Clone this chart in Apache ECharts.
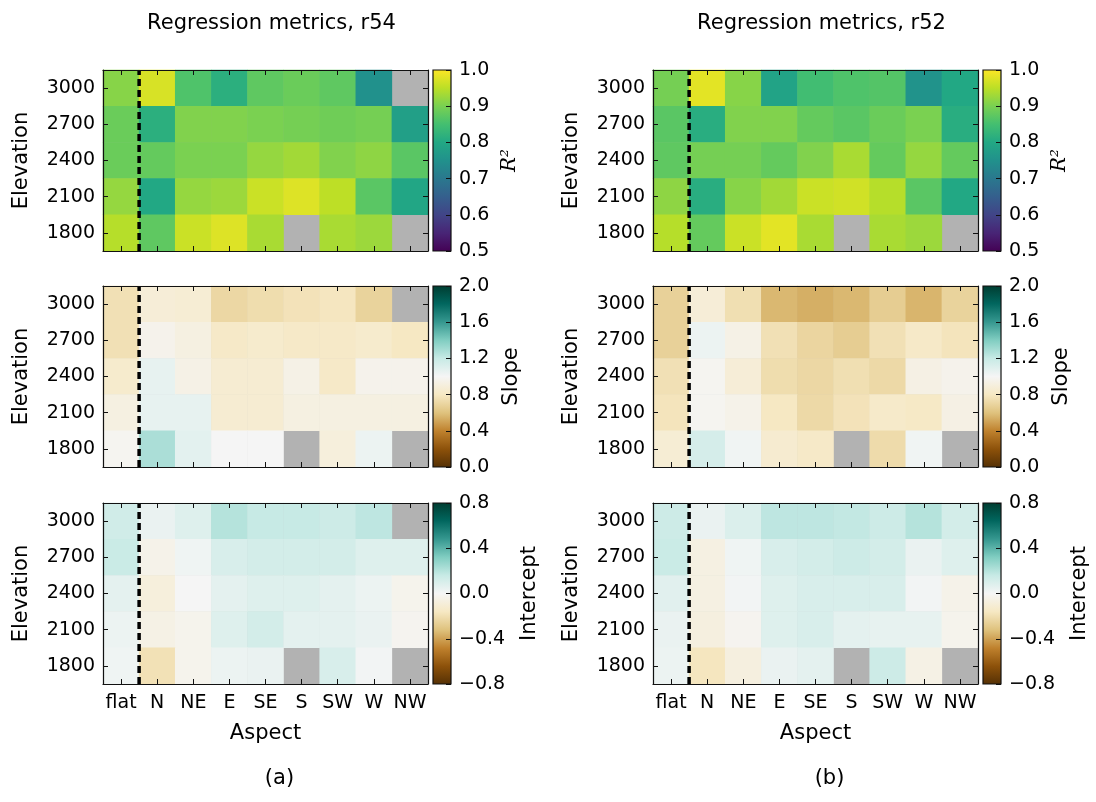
<!DOCTYPE html>
<html><head><meta charset="utf-8">
<script src="https://cdn.jsdelivr.net/npm/echarts@6/dist/echarts.min.js"></script>
<style>html,body{margin:0;padding:0;background:#fff}#c{width:1096px;height:802px}</style>
</head><body><div id="c"></div><script>
// ---- categories ----
const aspects = ['flat','N','NE','E','SE','S','SW','W','NW'];
const elevations = ['1800','2100','2400','2700','3000'];
const panelTitles = ['Regression metrics, r54', 'Regression metrics, r52'];
const panelCaptions = ['(a)', '(b)'];
const metricNames = ['R²', 'Slope', 'Intercept'];
const dividerAt = 0.5; // boundary between 'flat' and 'N'

// ---- values: rows listed top (3000) to bottom (1800), columns = aspects; null = no data ----
const r2_r54 = [
  [0.91, 0.97, 0.86, 0.815, 0.875, 0.885, 0.875, 0.75, null],
  [0.885, 0.815, 0.905, 0.905, 0.90, 0.895, 0.89, 0.895, 0.78],
  [0.885, 0.88, 0.90, 0.90, 0.92, 0.93, 0.905, 0.915, 0.87],
  [0.92, 0.80, 0.92, 0.925, 0.96, 0.975, 0.95, 0.87, 0.795],
  [0.945, 0.875, 0.96, 0.975, 0.935, null, 0.935, 0.925, null]
];
const r2_r52 = [
  [0.895, 0.98, 0.91, 0.79, 0.845, 0.86, 0.865, 0.755, 0.80],
  [0.87, 0.81, 0.905, 0.905, 0.88, 0.87, 0.885, 0.90, 0.81],
  [0.875, 0.895, 0.895, 0.88, 0.905, 0.935, 0.88, 0.92, 0.88],
  [0.915, 0.81, 0.91, 0.93, 0.96, 0.965, 0.945, 0.87, 0.80],
  [0.945, 0.88, 0.96, 0.98, 0.935, null, 0.935, 0.925, null]
];
const slope_r54 = [
  [0.76, 0.88, 0.87, 0.71, 0.74, 0.77, 0.79, 0.69, null],
  [0.76, 0.96, 0.92, 0.82, 0.84, 0.82, 0.82, 0.84, 0.80],
  [0.84, 1.06, 0.94, 0.86, 0.86, 0.94, 0.82, 0.96, 0.96],
  [0.92, 1.06, 1.06, 0.86, 0.86, 0.92, 0.92, 0.92, 0.92],
  [0.98, 1.28, 1.08, 1.00, 1.00, null, 0.90, 1.04, null]
];
const slope_r52 = [
  [0.68, 0.88, 0.75, 0.57, 0.54, 0.57, 0.66, 0.56, 0.69],
  [0.68, 1.04, 0.94, 0.76, 0.70, 0.66, 0.76, 0.82, 0.78],
  [0.76, 0.98, 0.88, 0.74, 0.71, 0.75, 0.72, 0.93, 0.96],
  [0.78, 0.98, 0.95, 0.80, 0.72, 0.77, 0.83, 0.81, 0.93],
  [0.87, 1.14, 1.02, 0.85, 0.82, null, 0.73, 1.02, null]
];
const intercept_r54 = [
  [0.13, 0.04, 0.08, 0.20, 0.16, 0.16, 0.14, 0.18, null],
  [0.15, -0.04, 0.02, 0.10, 0.12, 0.12, 0.12, 0.08, 0.08],
  [0.06, -0.08, 0.00, 0.06, 0.08, 0.08, 0.06, 0.03, -0.03],
  [0.03, -0.05, -0.03, 0.08, 0.12, 0.06, 0.06, 0.04, -0.02],
  [0.02, -0.19, -0.03, 0.03, 0.04, null, 0.10, 0.01, null]
];
const intercept_r52 = [
  [0.14, 0.04, 0.09, 0.18, 0.18, 0.17, 0.14, 0.20, 0.12],
  [0.15, -0.06, 0.02, 0.10, 0.12, 0.14, 0.12, 0.04, 0.08],
  [0.07, -0.06, 0.01, 0.08, 0.10, 0.10, 0.10, 0.01, -0.04],
  [0.04, -0.07, -0.02, 0.08, 0.10, 0.06, 0.05, 0.05, -0.03],
  [0.03, -0.17, -0.07, 0.04, 0.06, null, 0.14, -0.05, null]
];

// ---- colour scales ----
const rangeR2 = [0.5, 1.0], ticksR2 = 0.1;
const rangeSlope = [0.0, 2.0], ticksSlope = 0.4;
const rangeIntercept = [-0.8, 0.8], ticksIntercept = 0.4;
const viridis = ['#440154','#482475','#414487','#355f8d','#2a788e','#21918c','#22a884','#44bf70','#7ad151','#bddf26','#fde725'];
const brbg = ['#543005','#8c510a','#bf812d','#dfc27d','#f6e8c3','#f5f5f5','#c7eae5','#80cdc1','#35978f','#01665e','#003c30'];

const panels = [
  [r2_r54, slope_r54, intercept_r54],
  [r2_r52, slope_r52, intercept_r52]
];
const ranges = [rangeR2, rangeSlope, rangeIntercept];
const intervals = [ticksR2, ticksSlope, ticksIntercept];
const cmaps = [viridis, brbg, brbg];

// ---- layout (pixels) ----
const FONT = 'DejaVu Sans', FS = 19, FSL = 21, TXT = '#000', LINE = '#111';
const plotLeft = [103, 653], plotW = 325;
const plotTop = [70, 286, 503], plotH = 181;
const cbGap = 5, cbW = 18;
const cbNameGap = [49, 50, 68];

const grids = [], xAxes = [], yAxes = [], series = [], visualMaps = [], titles = [];

function fmt(v){ if (Math.abs(v) < 1e-9) v = 0; return (v < 0 ? '\u2212' : '') + Math.abs(v).toFixed(1); }

for (let p = 0; p < 2; p++) {
  titles.push({text: panelTitles[p], left: plotLeft[p] + plotW/2 + 1, top: 8, textAlign: 'center',
    textStyle: {fontFamily: FONT, fontSize: FSL, fontWeight: 'normal', color: TXT}});
  titles.push({text: panelCaptions[p], left: plotLeft[p] + plotW/2 + 9, top: 763, textAlign: 'center',
    textStyle: {fontFamily: FONT, fontSize: FSL, fontWeight: 'normal', color: TXT}});
  for (let m = 0; m < 3; m++) {
    const isBottom = m === 2;
    const g = grids.length;
    grids.push({left: plotLeft[p], top: plotTop[m], width: plotW, height: plotH,
      show: true, backgroundColor: '#b2b2b2', borderWidth: 0});
    const cbg = grids.length;
    grids.push({left: plotLeft[p] + plotW + cbGap, top: plotTop[m], width: cbW, height: plotH, show: false});

    const axLine = {show: true, onZero: false, lineStyle: {color: LINE, width: 1.2}};
    const tick = {show: true, inside: true, length: 5, alignWithLabel: true, lineStyle: {color: LINE, width: 1}};
    const xA = xAxes.length;
    xAxes.push({type: 'category', gridIndex: g, data: aspects, position: 'bottom', z: 10,
      axisLine: axLine, axisTick: tick, splitLine: {show: false},
      axisLabel: {show: isBottom, margin: 10, fontFamily: FONT, fontSize: FS, color: TXT, interval: 0},
      name: isBottom ? 'Aspect' : '', nameLocation: 'middle', nameGap: 39,
      nameTextStyle: {fontFamily: FONT, fontSize: FSL, color: TXT}});
    xAxes.push({type: 'category', gridIndex: g, data: aspects, position: 'top', z: 10,
      axisLine: axLine, axisTick: tick, axisLabel: {show: false}, splitLine: {show: false}});
    const xV = xAxes.length;
    xAxes.push({type: 'value', gridIndex: g, min: -0.5, max: aspects.length - 0.5, show: false,
      axisLine: {onZero: false}});
    const xC = xAxes.length;
    xAxes.push({type: 'value', gridIndex: cbg, min: 0, max: 1, show: false, axisLine: {onZero: false}});

    const yA = yAxes.length;
    yAxes.push({type: 'category', gridIndex: g, data: elevations, position: 'left', z: 10,
      axisLine: axLine, axisTick: tick, splitLine: {show: false},
      axisLabel: {show: true, margin: 8, fontFamily: FONT, fontSize: FS, color: TXT},
      name: 'Elevation', nameLocation: 'middle', nameRotate: 90, nameGap: 71,
      nameTextStyle: {fontFamily: FONT, fontSize: FSL, color: TXT}});
    yAxes.push({type: 'category', gridIndex: g, data: elevations, position: 'right', z: 10,
      axisLine: axLine, axisTick: tick, axisLabel: {show: false}, splitLine: {show: false}});
    const yV = yAxes.length;
    yAxes.push({type: 'value', gridIndex: g, min: 0, max: 1, show: false, axisLine: {onZero: false}});
    const yC = yAxes.length;
    const rg = ranges[m];
    yAxes.push({type: 'value', gridIndex: cbg, min: rg[0], max: rg[1], interval: intervals[m], position: 'right', z: 10,
      axisLine: {show: false, onZero: false}, splitLine: {show: false},
      axisTick: {show: true, inside: true, length: 5, lineStyle: {color: LINE, width: 1}},
      axisLabel: {show: true, margin: 8, fontFamily: FONT, fontSize: FS, color: TXT, formatter: fmt,
        showMinLabel: true, showMaxLabel: true},
      name: metricNames[m], nameLocation: 'middle', nameRotate: 90, nameGap: cbNameGap[m],
      nameTextStyle: {fontFamily: m === 0 ? 'DejaVu Serif' : FONT, fontStyle: m === 0 ? 'italic' : 'normal',
        fontSize: m === 0 ? 20 : FSL, color: TXT}});

    const mat = panels[p][m];
    const data = [];
    for (let r = 0; r < mat.length; r++) {
      for (let c = 0; c < mat[r].length; c++) {
        const v = mat[r][c];
        if (v !== null) data.push([c, elevations.length - 1 - r, v]);
      }
    }
    const si = series.length;
    series.push({type: 'heatmap', xAxisIndex: xA, yAxisIndex: yA, data: data,
      itemStyle: {borderWidth: 0}, emphasis: {disabled: true}, progressive: 0});
    visualMaps.push({type: 'continuous', show: false, seriesIndex: si, min: rg[0], max: rg[1],
      dimension: 2, inRange: {color: cmaps[m]}});
    series.push({type: 'line', xAxisIndex: xV, yAxisIndex: yV, data: [[dividerAt, 0], [dividerAt, 1]],
      symbol: 'none', silent: true, z: 5, lineStyle: {color: '#000', width: 3.5, type: [7, 4]}});
    const stops = cmaps[m].map((col, i) => ({offset: i / (cmaps[m].length - 1), color: col}));
    series.push({type: 'custom', xAxisIndex: xC, yAxisIndex: yC, data: [[rg[0], rg[1]]], silent: true, z: 1,
      renderItem: function (params, api) {
        const lo = api.value(0), hi = api.value(1);
        const p0 = api.coord([0, hi]);
        const p1 = api.coord([1, lo]);
        return {type: 'rect', shape: {x: p0[0], y: p0[1], width: p1[0] - p0[0], height: p1[1] - p0[1]},
          style: {fill: new echarts.graphic.LinearGradient(0, 1, 0, 0, stops), stroke: LINE, lineWidth: 1.2}};
      }});
  }
}

const chart = echarts.init(document.getElementById('c'), null, {renderer: 'canvas'});
chart.setOption({
  backgroundColor: '#fff', animation: false,
  title: titles, grid: grids, xAxis: xAxes, yAxis: yAxes, visualMap: visualMaps, series: series
});
</script></body></html>
